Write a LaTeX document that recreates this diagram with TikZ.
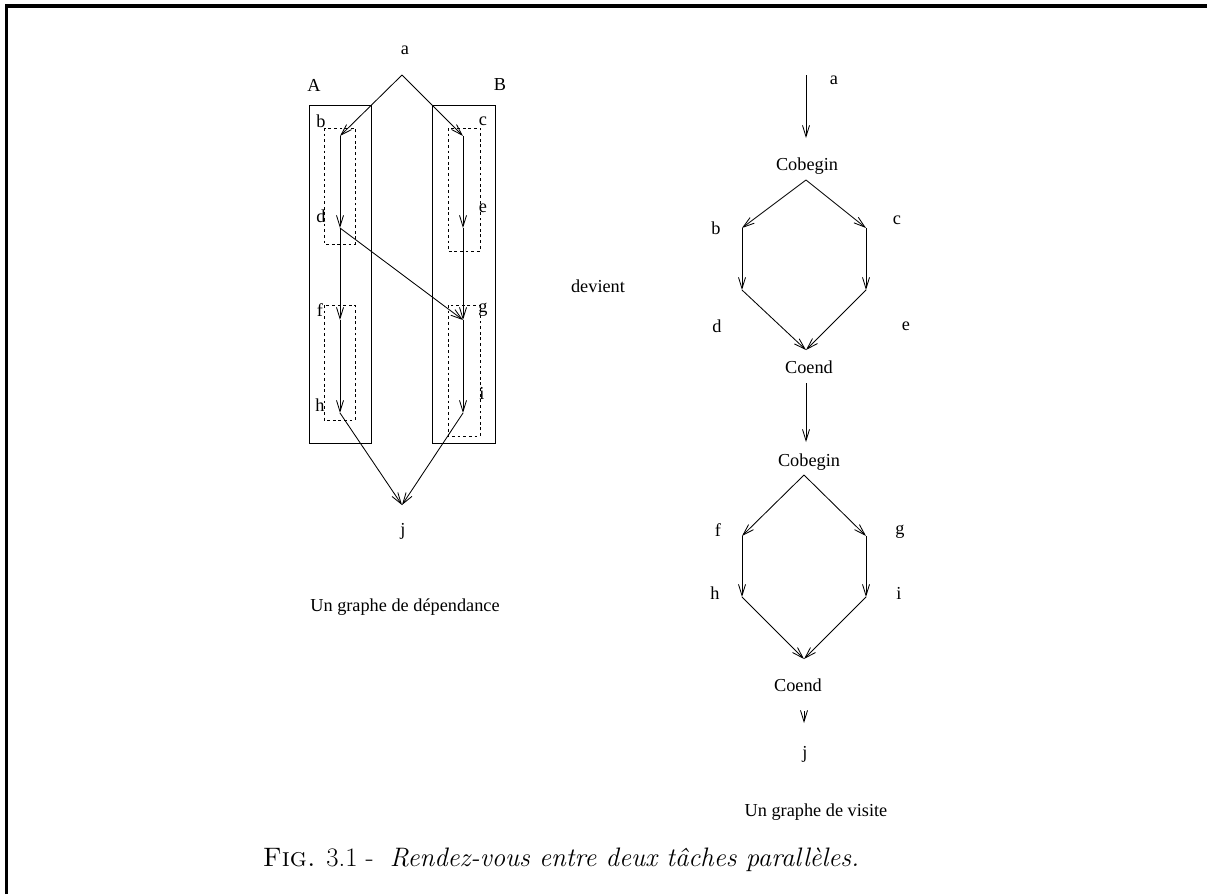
\documentclass[tikz,border=0pt]{standalone}
\usepackage{fontspec}
\newfontfamily\tms{Liberation Serif}
\usetikzlibrary{arrows.meta}

\begin{document}
\begin{tikzpicture}[x=0.025cm, y=-0.025cm,
  lbl/.style={font=\tms\fontsize{13}{15}\selectfont, inner sep=0pt},
  flow/.style={-{Straight Barb[length=8pt,width=5pt]}, line width=0.6pt},
  zone/.style={draw, line width=0.6pt},
  slot/.style={draw, line width=0.6pt, dash pattern=on 2pt off 2pt}]
\useasboundingbox (0,0) rectangle (1207,894);
% Frame
\draw[line width=2.2pt] (6.5,894) -- (6.5,6) -- (1207,6);

% Dependency graph
\coordinate (top) at (402,75);
\coordinate (pb) at (340,136);
\coordinate (pd) at (340,228);
\coordinate (pf) at (340,320);
\coordinate (ph) at (340,413);
\coordinate (pc) at (463,136);
\coordinate (pe) at (463,228);
\coordinate (pg) at (463,320);
\coordinate (pi) at (463,413);
\coordinate (pj) at (402,505);

\draw[zone] (309,105) rectangle (371,443);
\draw[zone] (432,105) rectangle (495,443);
\draw[slot] (324,128) rectangle (355,244);
\draw[slot] (448,128) rectangle (480,251);
\draw[slot] (324,305) rectangle (355,420);
\draw[slot] (448,305) rectangle (480,436);

\draw[flow] (top) -- (pb);
\draw[flow] (top) -- (pc);
\draw[flow] (pb) -- (pd);
\draw[flow] (pd) -- (pf);
\draw[flow] (pf) -- (ph);
\draw[flow] (pc) -- (pe);
\draw[flow] (pe) -- (pg);
\draw[flow] (pg) -- (pi);
\draw[flow] (pd) -- (pg);
\draw[flow] (ph) -- (pj);
\draw[flow] (pi) -- (pj);

\node[lbl] (la) at (405,50) {a};
\node[lbl] (lA) at (314,85) {A};
\node[lbl] (lB) at (500,85) {B};
\node[lbl] (lb) at (321,121) {b};
\node[lbl] (lc) at (483,121) {c};
\node[lbl] (ld) at (321,216) {d};
\node[lbl] (le) at (483,208) {e};
\node[lbl] (lf) at (320,310) {f};
\node[lbl] (lg) at (483,310) {g};
\node[lbl] (lh) at (320,405) {h};
\node[lbl] (li) at (482,393) {i};
\node[lbl] (lj) at (403,531) {j};
\node[lbl] (dep) at (405,607) {Un graphe de dépendance};

\node[lbl] (dev) at (598,286) {devient};

% Visit graph
\coordinate (qa0) at (806,75);
\coordinate (qa1) at (806,138);
\coordinate (qs) at (806,180);
\coordinate (qb) at (742,228);
\coordinate (qc) at (866,228);
\coordinate (qd) at (742,290);
\coordinate (qe) at (866,290);
\coordinate (qn) at (806,350);
\coordinate (qn0) at (806,383);
\coordinate (qn1) at (806,442);
\coordinate (qs2) at (804,475);
\coordinate (qf) at (742,536);
\coordinate (qg) at (866,536);
\coordinate (qh) at (742,597);
\coordinate (qi) at (866,597);
\coordinate (qn2) at (804,659);
\coordinate (qj0) at (804,711);
\coordinate (qj1) at (804,723);

\draw[flow] (qa0) -- (qa1);
\draw[flow] (qs) -- (qb);
\draw[flow] (qs) -- (qc);
\draw[flow] (qb) -- (qd);
\draw[flow] (qc) -- (qe);
\draw[flow] (qd) -- (qn);
\draw[flow] (qe) -- (qn);
\draw[flow] (qn0) -- (qn1);
\draw[flow] (qs2) -- (qf);
\draw[flow] (qs2) -- (qg);
\draw[flow] (qf) -- (qh);
\draw[flow] (qg) -- (qi);
\draw[flow] (qh) -- (qn2);
\draw[flow] (qi) -- (qn2);
\draw[flow] (qj0) -- (qj1);

\node[lbl] (ra) at (834,80) {a};
\node[lbl] (beg1) at (807,166) {Cobegin};
\node[lbl] (rb) at (716,228) {b};
\node[lbl] (rc) at (897,220) {c};
\node[lbl] (rd) at (717,326) {d};
\node[lbl] (re) at (906,326) {e};
\node[lbl] (end1) at (809,367) {Coend};
\node[lbl] (beg2) at (809,462) {Cobegin};
\node[lbl] (rf) at (718,530) {f};
\node[lbl] (rg) at (900,532) {g};
\node[lbl] (rh) at (715,593) {h};
\node[lbl] (ri) at (899,593) {i};
\node[lbl] (end2) at (798,685) {Coend};
\node[lbl] (rj) at (805,754) {j};
\node[lbl] (vis) at (816,812) {Un graphe de visite};

% Caption
\node[font=\fontsize{19}{23}\selectfont, inner sep=0pt] (cap) at (561,860)
  {\textsc{Fig.} 3.1 -\ \ \textit{Rendez-vous entre deux tâches parallèles.}};
\end{tikzpicture}
\end{document}
